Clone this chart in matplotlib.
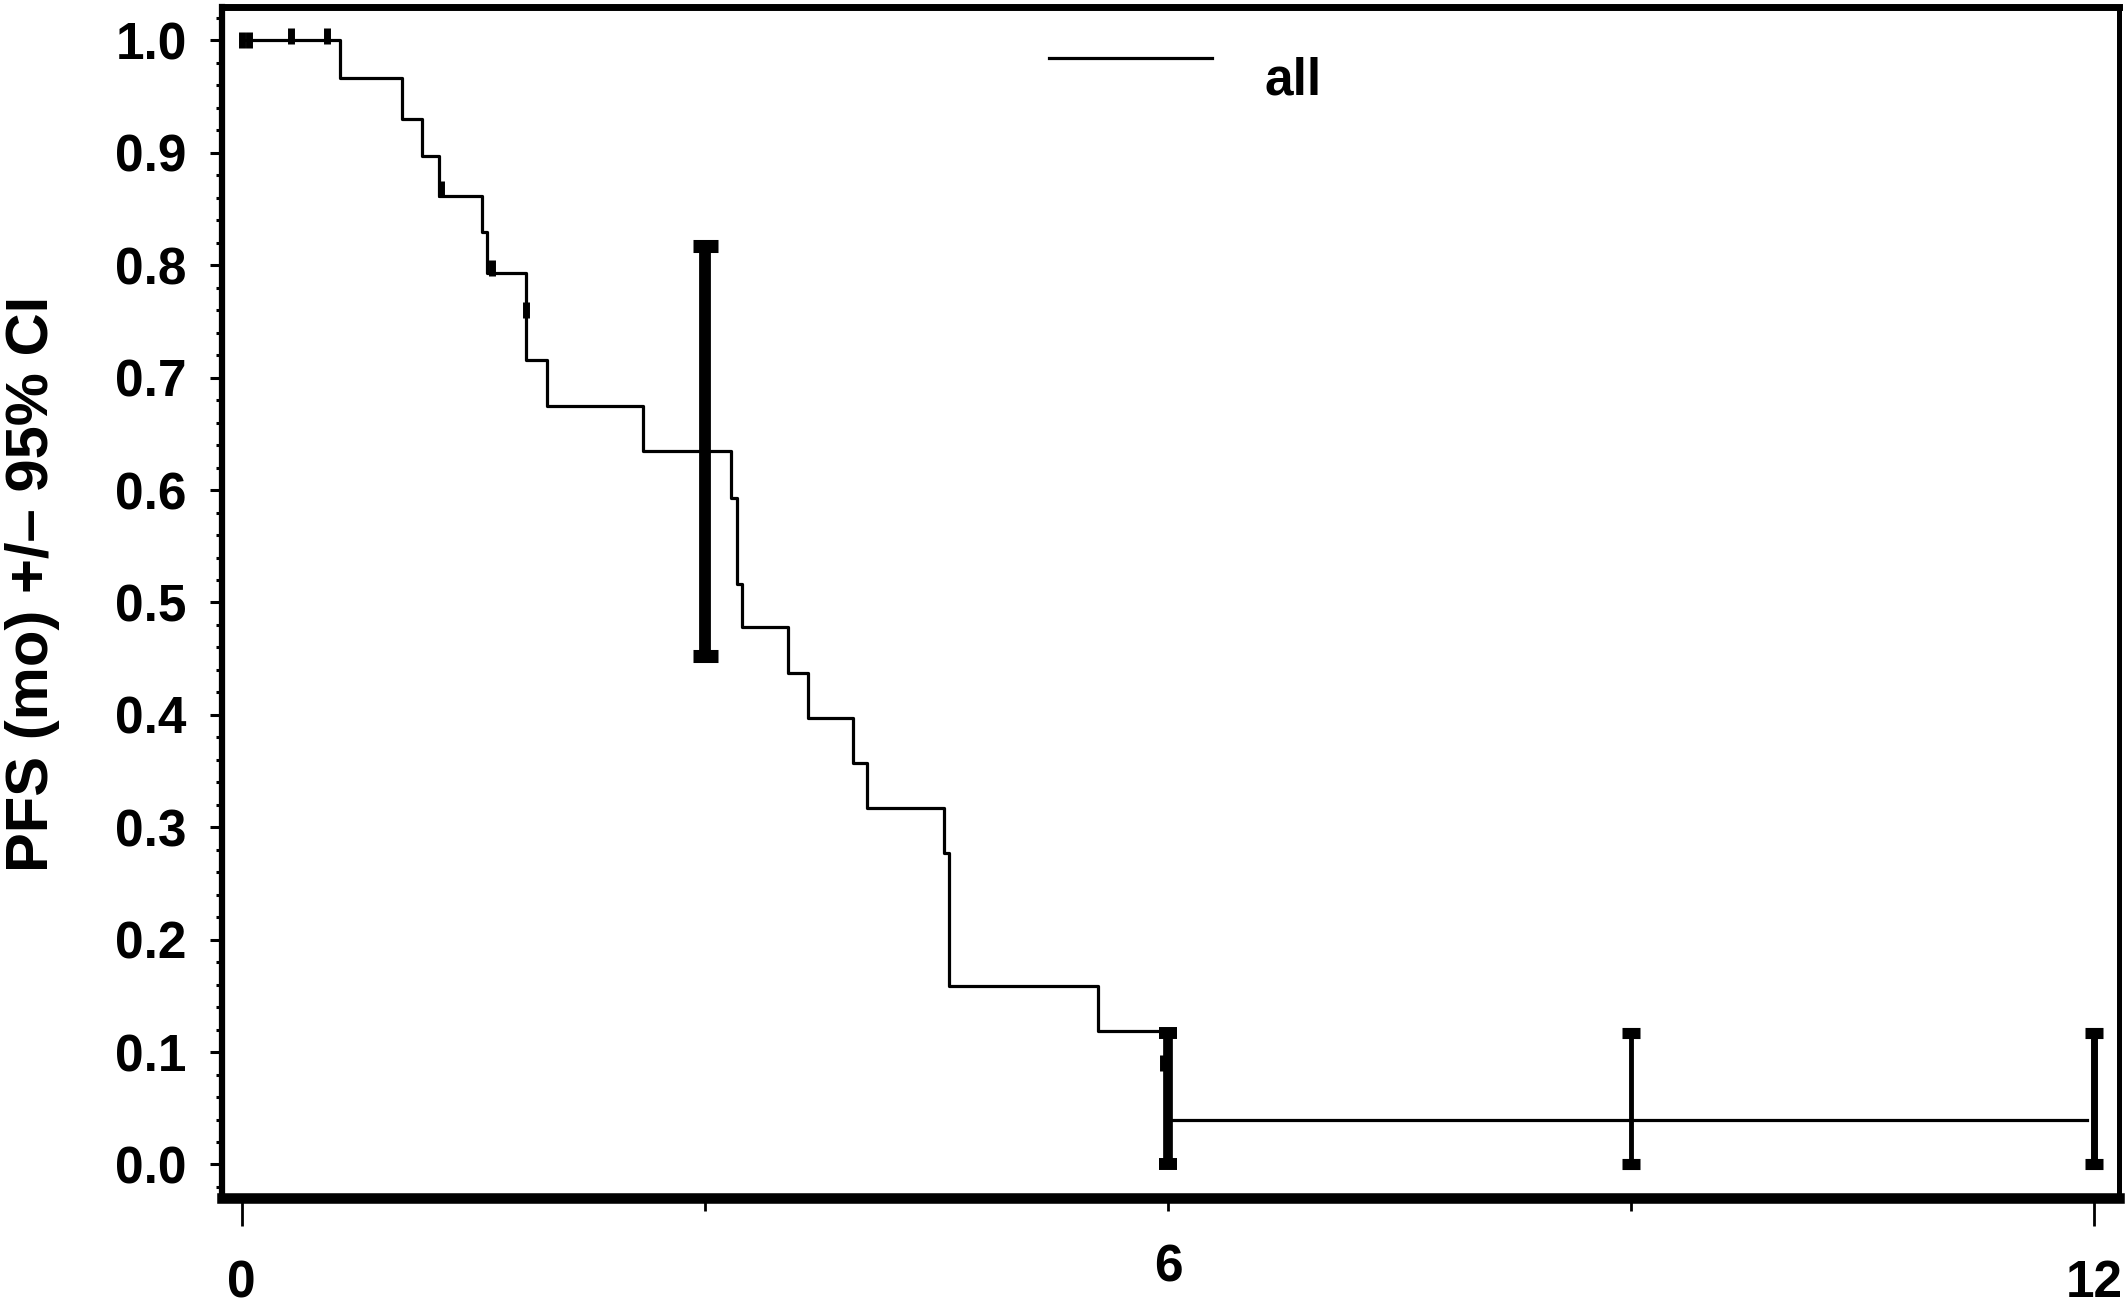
import matplotlib
matplotlib.use("Agg")
import matplotlib.pyplot as plt
from matplotlib.ticker import MultipleLocator

########### DATA ###########
KM_TIMES = [0, 0.64, 1.04, 1.17, 1.28, 1.56, 1.59, 1.84, 1.98, 2.60, 3.17, 3.21, 3.24,
            3.54, 3.67, 3.96, 4.05, 4.55, 4.58, 5.55, 6.0, 11.95]
KM_SURV = [1.0, 0.967, 0.930, 0.897, 0.862, 0.830, 0.793, 0.716, 0.675, 0.635, 0.593, 0.516, 0.478,
           0.437, 0.397, 0.357, 0.317, 0.277, 0.159, 0.119, 0.040, 0.040]

CENSOR_X = [0.0, 0.05, 0.32, 0.55, 1.29, 1.62, 1.84, 5.97]
CENSOR_Y = [1.0, 1.0, 1.004, 1.004, 0.868, 0.798, 0.760, 0.090]

CI_X = [3, 6, 9, 12]
CI_MID = [0.635, 0.040, 0.040, 0.040]
CI_LOW = [0.452, 0.0, 0.0, 0.0]
CI_HIGH = [0.817, 0.117, 0.117, 0.117]

X_TICKS = [0, 3, 6, 9, 12]
X_TICK_LABELS = ["0", "", "6", "", "12"]
Y_TICKS = [i / 10 for i in range(11)]
Y_TICK_LABELS = [f"{v:.1f}" for v in Y_TICKS]
############################

# line styles of the four CI bars (pt); capsize is half the cap length
CI_LW = [8.5, 7, 3.5, 5]
CI_CAPSIZE = [9, 6.5, 6.5, 6.5]
CI_CAPTHICK = [9.4, 8.6, 8, 8]

FONT = ["Liberation Sans", "DejaVu Sans"]
plt.rcParams["font.family"] = FONT
plt.rcParams["font.weight"] = "bold"

fig = plt.figure(figsize=(21.28, 13.11), dpi=100)
ax = fig.add_axes([0.1041, 0.0862, 0.8917, 0.9085])

ax.step(KM_TIMES, KM_SURV, where="post", color="black", linewidth=2.3, label="all")
ax.plot(CENSOR_X, CENSOR_Y, linestyle="none", marker="|", markersize=11,
        markeredgewidth=5, color="black")

for i in range(len(CI_X)):
    ax.errorbar([CI_X[i]], [CI_MID[i]],
                yerr=[[CI_MID[i] - CI_LOW[i]], [CI_HIGH[i] - CI_MID[i]]],
                fmt="none", ecolor="black", elinewidth=CI_LW[i],
                capsize=CI_CAPSIZE[i], capthick=CI_CAPTHICK[i])

ax.set_xlim(-0.130, 12.16)
ax.set_ylim(-0.0298, 1.0298)

ax.set_xticks(X_TICKS)
ax.set_xticklabels(X_TICK_LABELS)
ax.set_yticks(Y_TICKS)
ax.set_yticklabels(Y_TICK_LABELS)
ax.yaxis.set_minor_locator(MultipleLocator(0.02))

ax.tick_params(axis="y", which="major", direction="out", length=9, width=2.2,
               pad=16, labelsize=37)
ax.tick_params(axis="y", which="minor", direction="out", length=4, width=2.2)
ax.tick_params(axis="x", which="major", direction="out", length=9, width=2,
               pad=24, labelsize=37)
# end ticks on the x axis are longer in the original
xt = ax.xaxis.get_major_ticks()
for k in (0, len(xt) - 1):
    xt[k]._apply_params(size=20)
for lbl in ax.get_xticklabels() + ax.get_yticklabels():
    lbl.set_fontweight("bold")

ax.spines["bottom"].set_linewidth(7.6)
ax.spines["top"].set_linewidth(5)
ax.spines["left"].set_linewidth(4.5)
ax.spines["right"].set_linewidth(3.6)

ax.set_ylabel("PFS (mo) +/– 95% CI", fontsize=43, fontweight="bold")
ax.yaxis.set_label_coords(-0.085, 0.516)

leg = ax.legend(loc="center left", bbox_to_anchor=(0.436, 0.938), frameon=False,
                borderpad=0, borderaxespad=0, handlelength=3.17, handletextpad=1.03,
                prop={"family": FONT, "weight": "bold", "size": 37})
for hl in leg.get_lines():
    hl.set_ydata([y + 13 for y in hl.get_ydata()])

fig.savefig("out.png", dpi=100)
